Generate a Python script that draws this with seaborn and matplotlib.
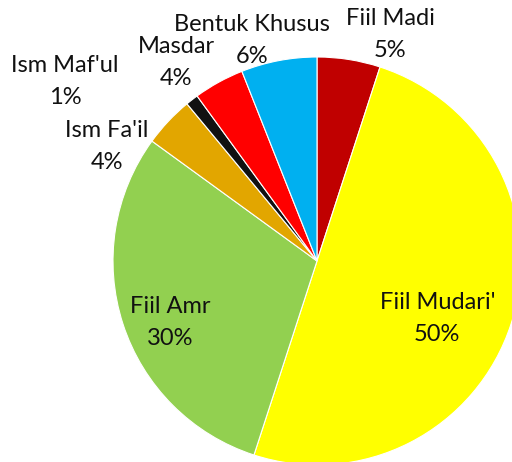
import matplotlib
matplotlib.use("Agg")
import matplotlib.pyplot as plt
import seaborn as sns

# slice data, clockwise from 12 o'clock
categories = ["Fiil Madi", "Fiil Mudari'", "Fiil Amr", "Ism Fa'il",
              "Ism Maf'ul", "Masdar", "Bentuk Khusus"]
percents = [5, 50, 30, 4, 1, 4, 6]
colors = ["#C00000", "#FFFF00", "#92D050", "#E2A600",
          "#111111", "#FF0000", "#00B0F0"]

# label block centres (pie radius = 1)
label_pos = [(0.36, 1.11), (0.59, -0.28), (-0.72, -0.30), (-1.03, 0.56),
             (-1.235, 0.88), (-0.69, 0.975), (-0.32, 1.08)]

sns.set_theme(style="white")
plt.rcParams["font.family"] = ["Lato", "DejaVu Sans"]

fig = plt.figure(figsize=(5.12, 4.62), dpi=100)
# square axes: centre at (317, 261) px, radius 204 px
ax = fig.add_axes([(317 - 204) / 512, (462 - 261 - 204) / 462, 408 / 512, 408 / 462])

ax.pie(percents, colors=colors, startangle=90, counterclock=False,
       radius=1, wedgeprops=dict(edgecolor="white", linewidth=0.8))
ax.set_xlim(-1, 1)
ax.set_ylim(-1, 1)
ax.set_aspect("auto")
ax.axis("off")

half_gap = 16 / 204  # half the distance between the two label lines
for name, pct, (x, y) in zip(categories, percents, label_pos):
    ax.text(x, y + half_gap, name, ha="center", va="center",
            fontsize=17, color="#111111", clip_on=False)
    ax.text(x, y - half_gap, f"{pct}%", ha="center", va="center",
            fontsize=17, color="#111111", clip_on=False)

fig.savefig("out.png", dpi=100)
